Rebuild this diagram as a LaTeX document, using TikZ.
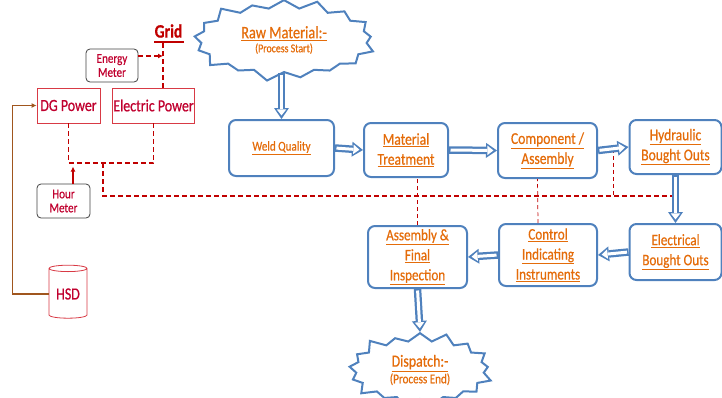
\documentclass[tikz,border=0pt]{standalone}
\usepackage{fontspec}
\setmainfont{Carlito}[FakeStretch=0.82,FakeBold=0.6]
\usetikzlibrary{arrows.meta,shapes.symbols,shapes.geometric,calc}
\definecolor{myblue}{HTML}{4F81BD}
\definecolor{myorange}{HTML}{E46C0A}
\definecolor{myred}{HTML}{C00000}
\definecolor{boxred}{HTML}{D83A45}
\definecolor{textred}{HTML}{C0002E}
\definecolor{mybrown}{HTML}{A0561E}
\definecolor{mygray}{HTML}{404040}
\newcommand\ulo[1]{\underline{#1}}
\begin{document}
\begin{tikzpicture}[x=1pt,y=-1pt,
  bluebox/.style={draw=myblue, line width=2pt, rounded corners=7pt, align=center,
    text=myorange, font=\fontsize{16.5}{20}\selectfont, inner sep=2pt},
  redbox/.style={draw=boxred, line width=0.8pt, text=textred, align=center,
    font=\fontsize{17}{19}\selectfont, inner sep=1pt},
  meterbox/.style={draw=mygray, line width=0.8pt, rounded corners=4pt, text=textred,
    align=center, font=\fontsize{13.5}{14}\selectfont, inner sep=1pt},
  burst/.style={starburst, starburst points=17, starburst point height=11pt,
    draw=myblue, line width=2pt, align=center, text=myorange, inner sep=1pt},
  dbl/.style={draw=myblue, line width=7.5pt,
    -{Triangle[length=11pt,width=15pt,line width=0pt]},
    postaction={draw=white, line width=3pt, shorten <=1.5pt, shorten >=3.6pt,
      -{Triangle[length=6pt,width=9.5pt,line width=0pt]}}},
  reddash/.style={draw=myred, line width=1.6pt, dash pattern=on 5pt off 3pt},
  thindash/.style={draw=myred, line width=0.7pt, dash pattern=on 4pt off 3pt},
]
\useasboundingbox (0,0) rectangle (722,397);

% blue process nodes
\node[burst, minimum width=188pt, minimum height=86pt] (raw) at (284,40)
  {{\fontsize{17.5}{20}\selectfont\ulo{Raw Material:-}}\\[2pt]{\fontsize{12}{14}\selectfont(Process Start)}};
\node[bluebox, minimum width=105pt, minimum height=56pt, font=\fontsize{13.5}{16}\selectfont] (weld) at (281.5,148) {\ulo{Weld Quality}};
\node[bluebox, minimum width=84pt, minimum height=54pt] (mat) at (406,150) {\ulo{Material}\\\ulo{Treatment}};
\node[bluebox, minimum width=99pt, minimum height=55pt] (comp) at (547.5,150.5) {\ulo{Component /}\\\ulo{Assembly}};
\node[bluebox, minimum width=92pt, minimum height=54pt] (hyd) at (675.5,147) {\ulo{Hydraulic}\\\ulo{Bought Outs}};
\node[bluebox, minimum width=92pt, minimum height=56pt, font=\fontsize{16}{20}\selectfont] (elec) at (675.5,252) {\ulo{Electrical}\\\ulo{Bought Outs}};
\node[bluebox, minimum width=98pt, minimum height=62pt, font=\fontsize{16}{20}\selectfont] (ctrl) at (548,255) {\ulo{Control}\\\ulo{Indicating}\\\ulo{Instruments}};
\node[bluebox, minimum width=99pt, minimum height=62pt, font=\fontsize{16}{20}\selectfont] (assy) at (417.5,257) {\ulo{Assembly \&}\\\ulo{Final}\\\ulo{Inspection}};
\node[burst, minimum width=150pt, minimum height=80pt] (disp) at (420,370)
  {{\fontsize{17}{20}\selectfont\ulo{Dispatch:-}}\\[1pt]{\fontsize{13.5}{15}\selectfont(Process End)}};

% power side
\node[redbox, minimum width=63pt, minimum height=35pt] (dg) at (68.5,105.5) {DG Power};
\node[redbox, minimum width=79pt, minimum height=35pt] (epow) at (153.5,105.5) {Electric Power};
\node[meterbox, minimum width=52pt, minimum height=33pt] (em) at (112,65.5) {Energy\\Meter};
\node[meterbox, minimum width=53pt, minimum height=34pt] (hm) at (63.5,201) {Hour\\Meter};
\node[cylinder, shape border rotate=90, draw=boxred, line width=0.8pt, aspect=0.25,
  minimum width=38pt, minimum height=53pt, text=textred, font=\fontsize{17}{19}\selectfont, inner sep=1pt] (hsd) at (68,294) {HSD};
\node[text=myred, font=\fontsize{19}{21}\selectfont\bfseries, inner sep=0pt] (grid) at (168.5,31) {Grid};
\coordinate (gl) at (154,42);
\coordinate (gr) at (184,42);
\coordinate (gj) at (163,42);
\draw[myred, line width=2pt] (gl) -- (gr);
\draw[reddash] (gj |- epow.north) -- (gj);
\draw[reddash, -{Latex[length=5pt,width=5pt]}] ($(em.east)+(0,-9.5)$) -- ($(gj)+(0,14)$);

% dashed network
\coordinate (j1) at (103,163);
\coordinate (j2) at (103,196);
\coordinate (j3) at (676,196);
\draw[reddash] (dg.south) -- (dg.south |- j1) -| (epow.south);
\draw[reddash] (j1) -- (j2) -- (j3);
\draw[myred, line width=1.2pt, -{Latex[length=5pt,width=5pt]}] ($(hm.north)+(9.5,0)$) -- ($(hm.north)+(9.5,-17)$);
\draw[thindash] (assy.north) -- (assy.north |- mat.south);
\draw[thindash] ($(ctrl.north)+(-10,0)$) -- ($(comp.south)+(-10,0)$);
\draw[thindash] ($(comp.east)!0.5!(hyd.west)$) -- ($(comp.east)!0.5!(hyd.west)+(0,46)$);

% brown feed line
\draw[mybrown, line width=1.8pt, -{Latex[length=5pt,width=5pt]}] (hsd.west) -- ++(-36,0) |- (dg.west);

% double arrows
\draw[dbl] (weld.north |- raw.south) -- (weld.north);
\draw[dbl] (weld.east) -- (mat.west);
\draw[dbl] (mat.east) -- (comp.west);
\draw[dbl] (comp.east) -- (hyd.west);
\draw[dbl] (hyd.south) -- (elec.north);
\draw[dbl] (elec.west) -- (ctrl.east);
\draw[dbl] (ctrl.west) -- (assy.east);
\draw[dbl] (assy.south) -- (disp.north);
\end{tikzpicture}
\end{document}
